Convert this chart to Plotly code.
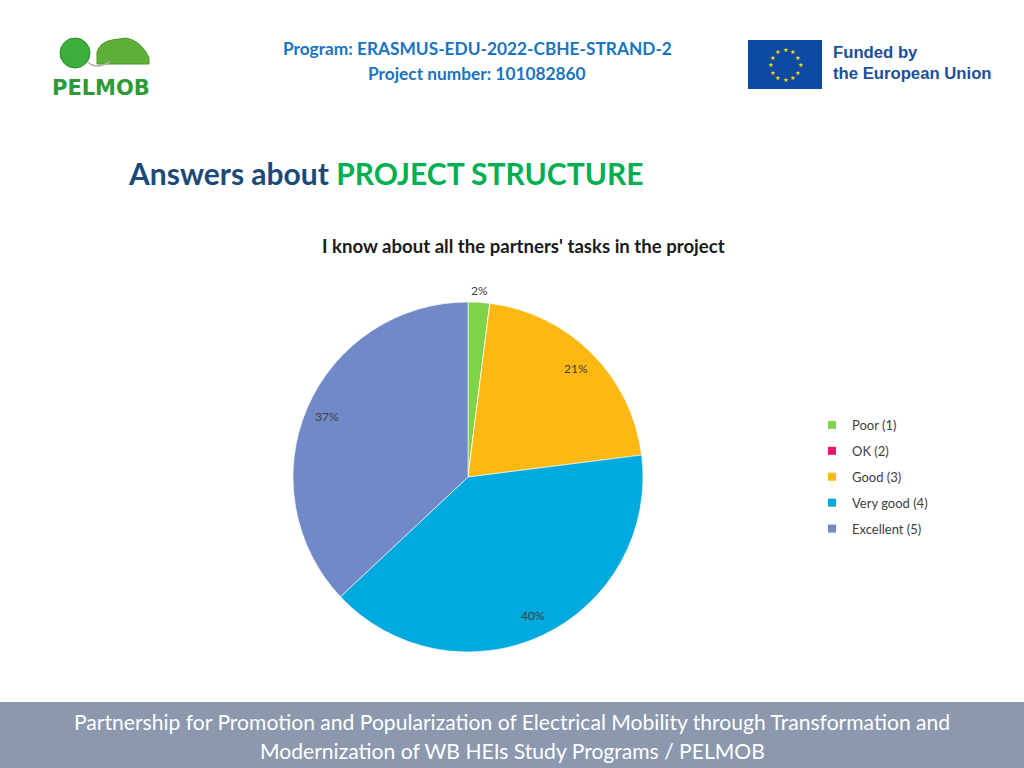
import math
import plotly.graph_objects as go

# ---- data ----
categories = ["Poor (1)", "OK (2)", "Good (3)", "Very good (4)", "Excellent (5)"]
values = [2, 0, 21, 40, 37]
colors = ["#7ed348", "#e8186d", "#fdb813", "#00a9de", "#7189c6"]
chart_title = "I know about all the partners' tasks in the project"

W, H = 1024, 768
FONT = "Lato"

def px(x):
    return x / W

def py(y):
    return 1 - y / H

fig = go.Figure()

# pie geometry (pixels)
CX, CY, R = 468, 477, 175
fig.add_trace(go.Pie(
    labels=categories, values=values, sort=False, direction="clockwise",
    rotation=0, textinfo="none", hoverinfo="label+percent",
    marker=dict(colors=colors, line=dict(color="white", width=0.6)),
    domain=dict(x=[px(CX - R), px(CX + R)], y=[py(CY + R), py(CY - R)]),
    showlegend=False,
))

# legend via marker-only entries
for i, (c, col) in enumerate(zip(categories, colors)):
    fig.add_trace(go.Scatter(
        x=[None], y=[None], mode="markers", name=c, legendgroup=c,
        marker=dict(symbol="square", size=8, color=col),
    ))

annotations = []
shapes = []

def note(x, y, text, size, color, family=FONT, xanchor="center", align="center"):
    annotations.append(dict(x=px(x), y=py(y), xref="paper", yref="paper",
                            text=text, showarrow=False, align=align,
                            font=dict(family=family, size=size, color=color),
                            xanchor=xanchor, yanchor="middle"))

# data labels computed from the slice angles
total = sum(values)
cum = 0
for v in values:
    if v > 0:
        mid = (cum + v / 2) / total * 2 * math.pi
        rf = 0.875 if v / total >= 0.05 else 1.07
        lx = CX + R * rf * math.sin(mid)
        ly = CY - R * rf * math.cos(mid)
        note(lx, ly, f"{round(v / total * 100)}%", 12, "#404040")
    cum += v

# chart title
note(523, 246, f"<b>{chart_title}</b>", 18.6, "#1a1a1a")

# slide heading
annotations.append(dict(x=px(126), y=py(173), xref="paper", yref="paper",
                        text="<b><span style='color:#1b4978'>Answers about </span>"
                             "<span style='color:#00b050'>PROJECT STRUCTURE</span></b>",
                        showarrow=False, font=dict(family=FONT, size=30),
                        xanchor="left", yanchor="middle"))

# header program text
note(477, 48, "<b>Program: ERASMUS-EDU-2022-CBHE-STRAND-2</b>", 17.3, "#1a73c0")
note(477, 74, "<b>Project number: 101082860</b>", 17.3, "#1a73c0")

# EU logo
shapes.append(dict(type="rect", xref="paper", yref="paper",
                   x0=px(748), x1=px(822), y0=py(89), y1=py(40),
                   fillcolor="#0e4aa3", line=dict(width=0), layer="below"))
for k in range(12):
    a = k / 12 * 2 * math.pi
    note(785 + 15 * math.sin(a), 64.5 - 15 * math.cos(a), "★", 6, "#ffe000",
         family="DejaVu Sans")
note(831, 53, "<b>Funded by</b>", 16.7, "#1c4f9a", family="Liberation Sans", xanchor="left")
note(831, 73, "<b>the European Union</b>", 16.7, "#1c4f9a", family="Liberation Sans", xanchor="left")

# PELMOB logo (approximation)
shapes.append(dict(type="circle", xref="paper", yref="paper",
                   x0=px(60), x1=px(90), y0=py(68), y1=py(38),
                   fillcolor="#3cae3c", line=dict(color="#2b8a2b", width=1)))
shapes.append(dict(type="path", xref="paper", yref="paper",
                   path=f"M {px(97)},{py(64)} L {px(97)},{py(52)} Q {px(100)},{py(42)} {px(112)},{py(40)} "
                        f"L {px(126)},{py(38)} Q {px(138)},{py(40)} {px(146)},{py(52)} "
                        f"L {px(149)},{py(58)} L {px(149)},{py(64)} Z",
                   fillcolor="#5fae3a", line=dict(color="#4a962a", width=1)))
shapes.append(dict(type="path", xref="paper", yref="paper",
                   path=f"M {px(88)},{py(62)} Q {px(95)},{py(70)} {px(110)},{py(62)}",
                   line=dict(color="#b0b0b0", width=1.5)))
note(101, 88, "<b>PELMOB</b>", 21, "#2e9a35", family="DejaVu Sans")

# footer band
shapes.append(dict(type="rect", xref="paper", yref="paper",
                   x0=0, x1=1, y0=0, y1=py(702),
                   fillcolor="#8b98ae", line=dict(width=0), layer="below"))
note(512, 721, "Partnership for Promotion and Popularization of Electrical Mobility through Transformation and",
     21.1, "white")
note(512, 750, "Modernization of WB HEIs Study Programs / PELMOB", 21.1, "white")

fig.update_layout(
    width=W, height=H, margin=dict(l=0, r=0, t=0, b=0),
    paper_bgcolor="white", plot_bgcolor="white",
    xaxis=dict(visible=False), yaxis=dict(visible=False),
    showlegend=True,
    legend=dict(x=px(812), y=py(410), xanchor="left", yanchor="top",
                font=dict(family=FONT, size=13, color="#404040"),
                tracegroupgap=6, bgcolor="rgba(0,0,0,0)", itemwidth=30),
    annotations=annotations, shapes=shapes,
)

fig.write_html("out.html", config={"displayModeBar": False},
               post_script="document.body.style.margin='0';document.body.style.overflow='hidden';")
